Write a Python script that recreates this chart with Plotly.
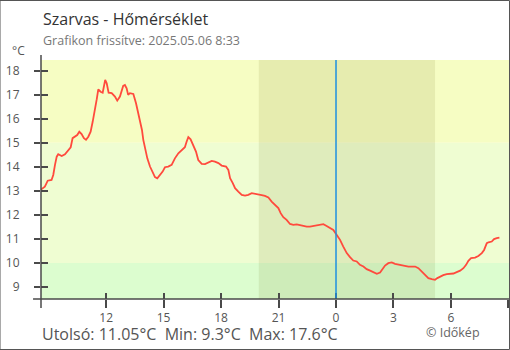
import plotly.graph_objects as go

# ---- data (hours relative to midnight 2025-05-06, temperature in °C) ----
hours = [-15.42, -15.28, -15.20, -15.11, -15.05, -14.85, -14.76, -14.67, -14.58, -14.50,
         -14.32, -14.15, -13.98, -13.85, -13.75, -13.63, -13.51, -13.40, -13.28, -13.16,
         -13.05, -12.93, -12.81, -12.70, -12.58, -12.49, -12.41, -12.29, -12.18, -12.11,
         -12.05, -11.97, -11.87, -11.71, -11.54, -11.42, -11.28, -11.11, -11.02, -10.93,
         -10.85, -10.76, -10.58, -10.44, -10.32, -10.23, -10.13, -10.06, -9.97, -9.85,
         -9.71, -9.57, -9.45, -9.33, -9.19, -9.05, -8.93, -8.76, -8.58, -8.41,
         -8.23, -8.06, -7.89, -7.80, -7.71, -7.59, -7.45, -7.31, -7.19, -7.01,
         -6.84, -6.67, -6.49, -6.32, -6.14, -5.97, -5.74, -5.62, -5.53, -5.39,
         -5.27, -5.10, -4.92, -4.75, -4.58, -4.40, -4.23, -4.06, -3.88, -3.71,
         -3.53, -3.36, -3.19, -3.01, -2.89, -2.75, -2.58, -2.40, -2.23, -2.05,
         -1.88, -1.71, -1.53, -1.36, -1.19, -1.01, -0.84, -0.66, -0.49, -0.31,
         -0.14, 0.03, 0.21, 0.38, 0.56, 0.73, 0.90, 1.08, 1.25, 1.43,
         1.60, 1.78, 1.95, 2.13, 2.30, 2.44, 2.56, 2.73, 2.91, 3.08,
         3.25, 3.43, 3.60, 3.78, 3.95, 4.13, 4.30, 4.48, 4.65, 4.82,
         5.00, 5.17, 5.29, 5.43, 5.60, 5.78, 5.95, 6.13, 6.30, 6.48,
         6.65, 6.79, 6.91, 7.05, 7.26, 7.43, 7.61, 7.73, 7.87, 7.96,
         8.13, 8.25, 8.39, 8.53]
temps = [13.04, 13.11, 13.17, 13.32, 13.42, 13.45, 13.66, 14.08, 14.42, 14.52,
         14.45, 14.52, 14.70, 14.81, 15.19, 15.25, 15.32, 15.46, 15.36, 15.19,
         15.12, 15.25, 15.46, 15.88, 16.36, 16.81, 17.22, 17.12, 17.08, 17.40,
         17.61, 17.47, 17.08, 17.06, 16.92, 16.75, 16.92, 17.36, 17.40, 17.26,
         16.99, 17.06, 17.03, 16.64, 16.23, 15.95, 15.53, 15.12, 14.81, 14.35,
         14.01, 13.73, 13.57, 13.52, 13.66, 13.80, 13.98, 14.01, 14.08, 14.35,
         14.56, 14.67, 14.81, 15.04, 15.23, 15.14, 14.91, 14.63, 14.28, 14.12,
         14.11, 14.17, 14.24, 14.21, 14.15, 14.05, 14.01, 13.87, 13.52, 13.32,
         13.11, 12.97, 12.83, 12.80, 12.83, 12.90, 12.88, 12.87, 12.82, 12.79,
         12.72, 12.55, 12.41, 12.28, 12.07, 11.90, 11.79, 11.62, 11.58, 11.60,
         11.57, 11.53, 11.51, 11.51, 11.53, 11.54, 11.58, 11.61, 11.54, 11.47,
         11.37, 11.17, 10.96, 10.68, 10.41, 10.24, 10.10, 10.06, 9.92, 9.85,
         9.74, 9.68, 9.60, 9.55, 9.60, 9.74, 9.89, 9.99, 10.02, 9.96,
         9.93, 9.92, 9.88, 9.85, 9.85, 9.85, 9.78, 9.64, 9.50, 9.37,
         9.33, 9.30, 9.37, 9.43, 9.49, 9.53, 9.55, 9.56, 9.62, 9.68,
         9.78, 9.92, 10.09, 10.20, 10.22, 10.29, 10.41, 10.54, 10.82, 10.86,
         10.89, 10.99, 11.03, 11.05]

tick_vals = [-12, -9, -6, -3, 0, 3, 6, 9]
tick_text = ["12", "15", "18", "21", "0", "3", "6", "9"]
y_ticks = [9, 10, 11, 12, 13, 14, 15, 16, 17, 18]

x_range = [-15.4, 9.03]
y_range = [8.5, 18.44]
sunset, sunrise = -4.03, 5.17
band_edges = [10, 15]

title = "Szarvas - Hőmérséklet"
subtitle = "Grafikon frissítve: 2025.05.06 8:33"
footer = "Utolsó: 11.05°C  Min: 9.3°C  Max: 17.6°C"
credit = "© Időkép"

FONT = "Open Sans"
AX = "#4a4a4a"

fig = go.Figure()
fig.add_trace(go.Scatter(x=hours, y=temps, mode="lines",
                         line=dict(color="#ff4a3d", width=1.8),
                         hoverinfo="skip", showlegend=False))
fig.add_trace(go.Scatter(x=[], y=[], xaxis="x2", yaxis="y2", showlegend=False,
                         hoverinfo="skip"))

shapes = []
# temperature bands
band_colors = ["#dcfdcf", "#effdd2", "#f6fdc3"]
bounds = [y_range[0]] + band_edges + [y_range[1]]
for i, c in enumerate(band_colors):
    shapes.append(dict(type="rect", xref="paper", yref="y", x0=0, x1=1,
                       y0=bounds[i], y1=bounds[i + 1], fillcolor=c,
                       line=dict(width=0), layer="below"))
# night shading
shapes.append(dict(type="rect", xref="x", yref="paper", x0=sunset, x1=sunrise,
                   y0=0, y1=1, fillcolor="rgba(90,90,0,0.1)",
                   line=dict(width=0), layer="below"))
# midnight marker
shapes.append(dict(type="line", xref="x", yref="paper", x0=0, x1=0, y0=0, y1=1,
                   line=dict(color="#1e8fe0", width=1.5)))
# axis lines (extended past plot area)
shapes.append(dict(type="line", xref="paper", yref="paper", x0=0, x1=0,
                   y0=-0.038, y1=1.021, line=dict(color=AX, width=1.5)))
shapes.append(dict(type="line", xref="paper", yref="paper", x0=-0.017, x1=1,
                   y0=0, y1=0, line=dict(color=AX, width=1.5)))
# outer frame
shapes.append(dict(type="rect", xref="paper", yref="paper",
                   x0=-41 / 468, x1=1 + 0.5 / 468, y0=-50.5 / 239, y1=1 + 59.5 / 239,
                   line=dict(color="#555555", width=1)))

common_x = dict(range=x_range, tickvals=tick_vals, showgrid=False, zeroline=False,
                showline=False, tickcolor=AX, tickwidth=1.5)
common_y = dict(range=y_range, tickvals=y_ticks, showgrid=False, zeroline=False,
                showline=False, tickcolor=AX, tickwidth=1.5)

fig.update_layout(
    width=510, height=350,
    margin=dict(l=41, r=1, t=60, b=51),
    paper_bgcolor="white", plot_bgcolor="white",
    font=dict(family=FONT, color="#555555"),
    xaxis=dict(**common_x, ticktext=tick_text, ticks="outside", ticklen=8,
               tickfont=dict(size=12, color="#555555")),
    yaxis=dict(**common_y, ticks="outside", ticklen=6, ticklabelstandoff=12,
               tickfont=dict(size=12, color="#555555")),
    xaxis2=dict(**common_x, overlaying="x", ticks="inside", ticklen=6,
                showticklabels=False),
    yaxis2=dict(**common_y, overlaying="y", ticks="inside", ticklen=7,
                showticklabels=False),
    shapes=shapes,
    annotations=[
        dict(text=title, xref="paper", yref="paper", x=0, y=(299 - 19) / 239,
             xanchor="left", yanchor="middle", showarrow=False,
             font=dict(size=16, color="#333333")),
        dict(text=subtitle, xref="paper", yref="paper", x=0, y=(299 - 41) / 239,
             xanchor="left", yanchor="middle", showarrow=False,
             font=dict(size=12.5, color="#777777")),
        dict(text="°C", xref="paper", yref="paper", x=-31 / 468, y=(299 - 51) / 239,
             xanchor="left", yanchor="middle", showarrow=False,
             font=dict(size=12, color="#555555")),
        dict(text=footer, xref="paper", yref="paper", x=-1 / 468, y=(299 - 334) / 239,
             xanchor="left", yanchor="middle", showarrow=False,
             font=dict(size=16, color="#555555")),
        dict(text=credit, xref="paper", yref="paper", x=(482 - 41) / 468,
             y=(299 - 332) / 239, xanchor="right", yanchor="middle", showarrow=False,
             font=dict(size=12.5, color="#666666")),
    ],
)

fig.write_html("out.html")
